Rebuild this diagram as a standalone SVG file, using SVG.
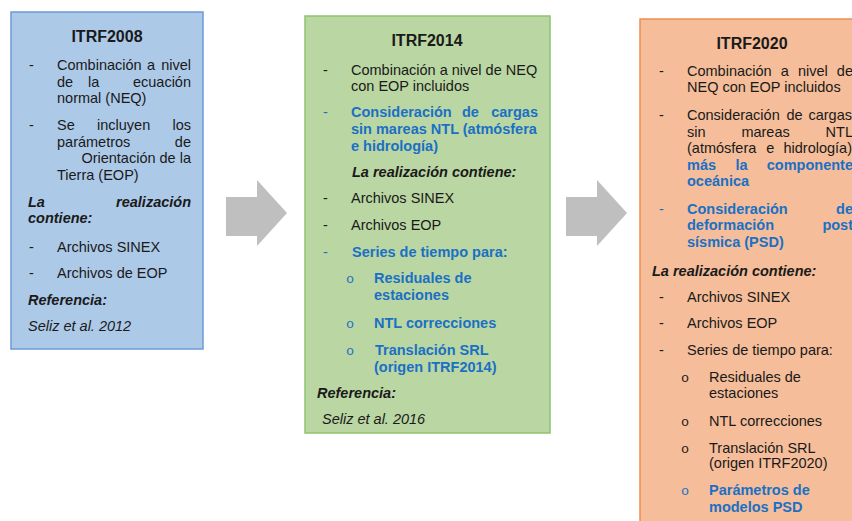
<svg xmlns="http://www.w3.org/2000/svg" width="852" height="521" viewBox="0 0 852 521">
<style>
text{font-family:"Liberation Sans",Arial,sans-serif;font-size:14.5px;fill:#1a1a1a}
.t{font-weight:bold;font-size:16px;text-anchor:middle}
.bi{font-weight:bold;font-style:italic}
.i{font-style:italic}
.bl{fill:#1a70c4;font-weight:bold}
.bd{fill:#1a70c4}
.e{text-anchor:end}
.o{font-family:"Liberation Mono",monospace;font-size:13.5px}
.arrow{fill:#bfbfbf}
</style>
<g id="connectors">
<polygon class="arrow" points="226,197 257,197 257,180 287,213 257,246 257,236 226,236"/>
<polygon class="arrow" points="566,197 597,197 597,180 627,213 597,246 597,236 566,236"/>
</g>
<g id="itrf2008">
<rect x="11" y="12" width="192" height="337" fill="#adc9e8" stroke="#6b9bd6" stroke-width="1.5"/>
<text class="t" x="107" y="42">ITRF2008</text>
<text x="29" y="70">-</text>
<text x="57" y="70">Combinación</text><text x="147" y="70">a</text><text class="e" x="191" y="70">nivel</text>
<text x="57" y="87">de</text><text x="88" y="87">la</text><text class="e" x="191" y="87">ecuación</text>
<text x="57" y="103">normal (NEQ)</text>
<text x="29" y="130">-</text>
<text x="57" y="130">Se</text><text x="97" y="130">incluyen</text><text class="e" x="191" y="130">los</text>
<text x="57" y="147">parámetros</text><text class="e" x="191" y="147">de</text>
<text class="e" x="191" y="163">Orientación de la</text>
<text x="57" y="180">Tierra (EOP)</text>
<text class="bi" x="28" y="207">La</text><text class="bi e" x="191" y="207">realización</text>
<text class="bi" x="28" y="223">contiene:</text>
<text x="29" y="252">-</text><text x="57" y="252">Archivos SINEX</text>
<text x="29" y="278">-</text><text x="57" y="278">Archivos de EOP</text>
<text class="bi" x="28" y="305">Referencia:</text>
<text class="i" x="28" y="331">Seliz et al. 2012</text>
</g>
<g id="itrf2014">
<rect x="305" y="16" width="245" height="417" fill="#bad6a3" stroke="#8cc36f" stroke-width="1.5"/>
<text class="t" x="427" y="46">ITRF2014</text>
<text x="323" y="75">-</text>
<text x="351" y="75">Combinación a nivel de NEQ</text>
<text x="351" y="91">con EOP incluidos</text>
<text class="bd" x="323" y="117">-</text>
<text class="bl" x="351" y="117">Consideración</text><text class="bl" x="462" y="117">de</text><text class="bl e" x="538" y="117">cargas</text>
<text class="bl" x="351" y="134">sin mareas NTL (atmósfera</text>
<text class="bl" x="351" y="151">e hidrología)</text>
<text class="bi" x="352" y="177">La realización contiene:</text>
<text x="323" y="203">-</text><text x="351" y="203">Archivos SINEX</text>
<text x="323" y="230">-</text><text x="351" y="230">Archivos EOP</text>
<text class="bd" x="323" y="257">-</text><text class="bl" x="352" y="257">Series de tiempo para:</text>
<text class="o bd" x="346" y="283">o</text><text class="bl" x="374" y="283">Residuales de</text>
<text class="bl" x="374" y="300">estaciones</text>
<text class="o bd" x="346" y="328">o</text><text class="bl" x="374" y="328">NTL correcciones</text>
<text class="o bd" x="346" y="355">o</text><text class="bl" x="375" y="355">Translación SRL</text>
<text class="bl" x="374" y="372">(origen ITRF2014)</text>
<text class="bi" x="317" y="398">Referencia:</text>
<text class="i" x="322" y="424">Seliz et al. 2016</text>
</g>
<g id="itrf2020">
<rect x="640" y="19" width="224" height="520" fill="#f5bd99" stroke="#ef8d4e" stroke-width="1.5"/>
<text class="t" x="752" y="49">ITRF2020</text>
<text x="659" y="76">-</text>
<text x="687" y="76">Combinación</text><text x="780.7" y="76">a</text><text x="797.9" y="76">nivel</text><text class="e" x="853" y="76">de</text>
<text x="687" y="92">NEQ con EOP incluidos</text>
<text x="659" y="120">-</text>
<text x="687" y="120">Consideración</text><text x="786.5" y="120">de</text><text class="e" x="852" y="120">cargas</text>
<text x="687" y="137">sin</text><text x="741.4" y="137">mareas</text><text class="e" x="853" y="137">NTL</text>
<text x="687" y="153">(atmósfera</text><text x="766.3" y="153">e</text><text class="e" x="852" y="153">hidrología)</text>
<text class="bl" x="687" y="170">más</text><text class="bl" x="735.4" y="170">la</text><text class="bl e" x="853" y="170">componente</text>
<text class="bl" x="687" y="186">oceánica</text>
<text class="bd" x="659" y="214">-</text>
<text class="bl" x="687" y="214">Consideración</text><text class="bl e" x="853" y="214">de</text>
<text class="bl" x="687" y="230">deformación</text><text class="bl e" x="853" y="230">post</text>
<text class="bl" x="687" y="247">sísmica (PSD)</text>
<text class="bi" x="652" y="276">La realización contiene:</text>
<text x="659" y="302">-</text><text x="687" y="302">Archivos SINEX</text>
<text x="659" y="328">-</text><text x="687" y="328">Archivos EOP</text>
<text x="659" y="355">-</text><text x="687" y="355">Series de tiempo para:</text>
<text class="o" x="681" y="382">o</text><text x="709" y="382">Residuales de</text>
<text x="709" y="398">estaciones</text>
<text class="o" x="681" y="426">o</text><text x="709" y="426">NTL correcciones</text>
<text class="o" x="681" y="453">o</text><text x="709" y="453">Translación SRL</text>
<text x="709" y="468">(origen ITRF2020)</text>
<text class="o bd" x="681" y="495">o</text><text class="bl" x="709" y="495">Parámetros de</text>
<text class="bl" x="709" y="512">modelos PSD</text>
</g>
</svg>
